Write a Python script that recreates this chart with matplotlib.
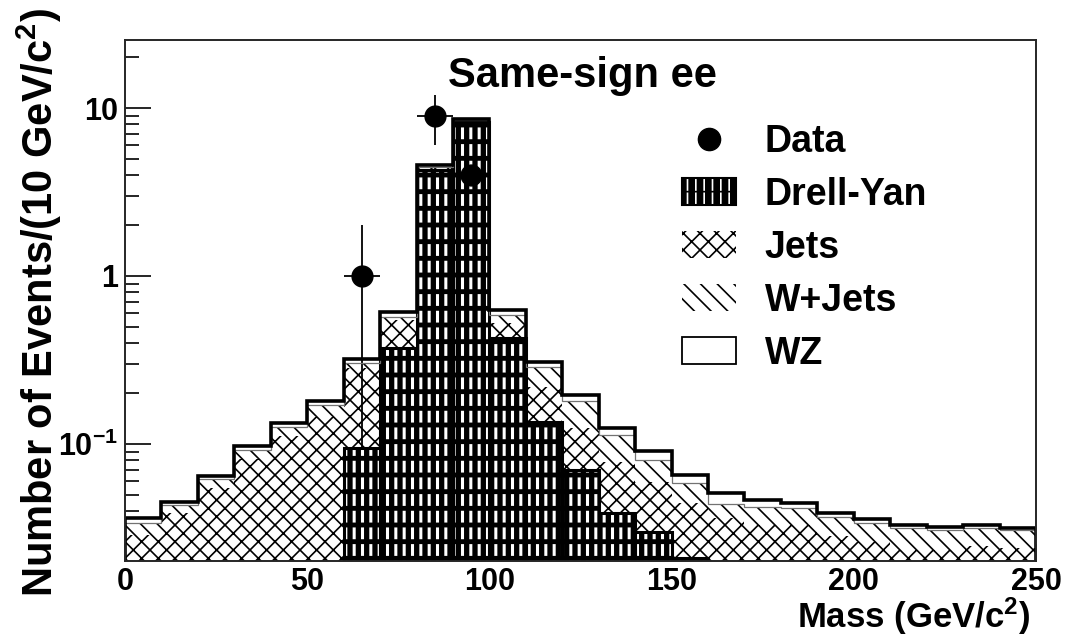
import numpy as np
import matplotlib
matplotlib.use('Agg')
import matplotlib.pyplot as plt
from matplotlib.patches import Patch
from matplotlib.lines import Line2D
from matplotlib.ticker import FixedLocator, FixedFormatter, LogLocator, NullFormatter

plt.rcParams['font.family'] = ['Liberation Sans', 'DejaVu Sans']
plt.rcParams['font.weight'] = 'bold'
plt.rcParams['mathtext.fontset'] = 'custom'
plt.rcParams['mathtext.rm'] = 'Liberation Sans:bold'
plt.rcParams['mathtext.it'] = 'Liberation Sans:bold'
plt.rcParams['mathtext.bf'] = 'Liberation Sans:bold'
plt.rcParams['hatch.linewidth'] = 1.2

# 10 GeV bins, 0..250
edges = np.arange(0, 260, 10)
centers = edges[:-1] + 5

drell_yan = [0, 0, 0, 0, 0, 0, 0.094, 0.371, 4.30, 8.30, 0.426, 0.136, 0.070,
             0.0387, 0.030, 0.021, 0, 0, 0, 0, 0, 0, 0, 0, 0]
jets = [0.0287, 0.0388, 0.0545, 0.0811, 0.111, 0.145, 0.190, 0.176, 0.15, 0.15,
        0.099, 0.081, 0.054, 0.0398, 0.0297, 0.0234, 0.0362, 0.0330, 0.0330,
        0.0284, 0.0262, 0.0235, 0.0235, 0.0247, 0.0239]
w_jets = [0.0052, 0.0046, 0.0076, 0.0112, 0.015, 0.026, 0.018, 0.026, 0.03, 0.03,
          0.061, 0.071, 0.056, 0.0345, 0.0208, 0.0139, 0.0078, 0.0093, 0.0087,
          0.0085, 0.0076, 0.0081, 0.0072, 0.0069, 0.0068]
wz = [0.0024, 0.0020, 0.0027, 0.0054, 0.007, 0.010, 0.017, 0.040, 0.10, 0.09,
      0.042, 0.018, 0.016, 0.011, 0.0106, 0.0072, 0.0069, 0.0042, 0.0031,
      0.0021, 0.0019, 0.0011, 0.0012, 0.0014, 0.0011]

data_mass = [65, 85, 95]
data_count = [1, 9, 4]

y_ticks = [0.1, 1, 10]
y_ticklabels = ['10$^{-1}$', '1', '10']
x_ticks = [0, 50, 100, 150, 200, 250]


def hatch_lw(artists, w):
    for p in artists:
        if hasattr(p, 'set_hatch_linewidth'):
            p.set_hatch_linewidth(w)


fig = plt.figure(figsize=(10.69, 6.38), dpi=100)
ax = fig.add_axes([125 / 1069, 1 - 561 / 638, 911 / 1069, 521 / 638])
ax.set_yscale('log')
ax.set_axisbelow(True)

dy = np.array(drell_yan)
cum_j = dy + np.array(jets)
cum_w = cum_j + np.array(w_jets)
total = cum_w + np.array(wz)

# Drell-Yan: black with white bricks
plt.rcParams['hatch.linewidth'] = 2.2
b = ax.bar(centers, dy, 10, bottom=0, color='black', edgecolor='white',
           hatch='||', linewidth=0, zorder=2)
hatch_lw(b, 2.2)
plt.rcParams['hatch.linewidth'] = 3.5
b = ax.bar(centers, dy, 10, bottom=0, facecolor='none', edgecolor='black',
           hatch='-', linewidth=2.2, zorder=2.1)
hatch_lw(b, 3.5)
# Jets
plt.rcParams['hatch.linewidth'] = 1.2
b = ax.bar(centers, jets, 10, bottom=dy, facecolor='white', edgecolor='black',
           hatch='xx', linewidth=0)
hatch_lw(b, 1.2)
# W+Jets
b = ax.bar(centers, w_jets, 10, bottom=cum_j, facecolor='white', edgecolor='black',
           hatch='\\\\', linewidth=0)
hatch_lw(b, 1.2)
# WZ
ax.bar(centers, wz, 10, bottom=cum_w, facecolor='white', linewidth=0)

ax.stairs(cum_w, edges, color='0.45', linewidth=0.9, zorder=2.5)
ax.stairs(total, edges, color='black', linewidth=2.6, zorder=3)

# error bars sit under the Drell-Yan fill, markers on top
ax.errorbar(data_mass, data_count, yerr=np.sqrt(data_count), xerr=5, fmt='none',
            ecolor='black', elinewidth=1.3, capsize=0, zorder=1.5)
ax.plot(data_mass, data_count, 'o', color='black', ms=15, zorder=6)

ax.set_xlim(0, 250)
ax.set_ylim(0.0201, 25.4)

ax.yaxis.set_major_locator(FixedLocator(y_ticks))
ax.yaxis.set_major_formatter(FixedFormatter(y_ticklabels))
ax.yaxis.set_minor_locator(LogLocator(base=10, subs=np.arange(2, 10)))
ax.yaxis.set_minor_formatter(NullFormatter())
ax.set_xticks(x_ticks, labels=[str(v) for v in x_ticks], fontweight='bold')
ax.tick_params(axis='y', which='major', direction='in', length=19, width=1.2,
               labelsize=22, pad=5, right=False)
ax.tick_params(axis='y', which='minor', direction='in', length=10, width=1.2,
               right=False)
ax.tick_params(axis='x', which='major', direction='in', length=12, width=1.2,
               labelsize=22, pad=4, top=False)
for s in ax.spines.values():
    s.set_linewidth(1.4)
    s.set_color('0.15')
    s.set_zorder(4)

# title inside the frame
ax.text((448 - 125) / 911, (561 - 87) / 521, 'Same-sign ee', transform=ax.transAxes,
        ha='left', va='baseline', fontsize=30, fontweight='bold')

# axis titles
fig.text(1030 / 1069, 1 - 628 / 638, 'Mass (GeV/c$^{2}$)', ha='right', va='baseline',
         fontsize=25, fontweight='bold')
fig.text(53 / 1069, 1 - 8 / 638, 'Number of Events/(10 GeV/c$^{2}$)', rotation=90,
         rotation_mode='anchor', ha='right', va='baseline', fontsize=30,
         fontweight='bold')

# legend
plt.rcParams['hatch.linewidth'] = 2.2
h_dy_base = Patch(facecolor='black', edgecolor='white', hatch='||', linewidth=0)
plt.rcParams['hatch.linewidth'] = 3.5
h_dy_top = Patch(facecolor='none', edgecolor='black', hatch='-', linewidth=1.5)
plt.rcParams['hatch.linewidth'] = 1.2
hatch_lw([h_dy_base], 2.2)
hatch_lw([h_dy_top], 3.5)
h_data = Line2D([], [], marker='o', color='black', ms=16, ls='none')
h_jets = Patch(facecolor='white', edgecolor='black', hatch='xx', linewidth=0)
h_wj = Patch(facecolor='white', edgecolor='black', hatch='\\\\', linewidth=0)
h_wz = Patch(facecolor='white', edgecolor='black', linewidth=1.3)
hatch_lw([h_jets, h_wj], 1.2)
ax.legend([h_data, (h_dy_base, h_dy_top), h_jets, h_wj, h_wz],
          ['Data', 'Drell-Yan', 'Jets', 'W+Jets', 'WZ'],
          loc='upper left', bbox_to_anchor=((682 - 125) / 911, (561 - 124) / 521),
          frameon=False, fontsize=27, handlelength=1.45, handleheight=0.72,
          handletextpad=0.75, labelspacing=0.45, borderpad=0, borderaxespad=0)

fig.savefig('out.png', dpi=100)
